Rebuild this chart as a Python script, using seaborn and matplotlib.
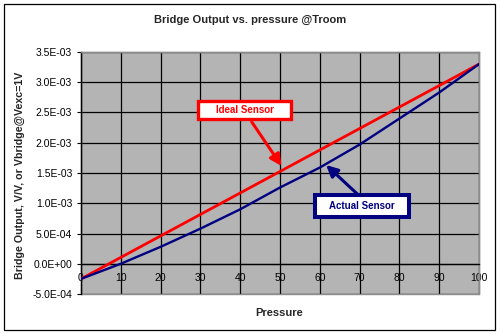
import matplotlib
matplotlib.use("Agg")
import matplotlib.pyplot as plt
from matplotlib.patches import Rectangle
from matplotlib.ticker import FuncFormatter, MultipleLocator
import seaborn as sns

# Bridge output (V/V) vs. applied pressure at room temperature
pressure_ideal = [0, 100]
ideal_output = [-2.5e-4, 3.30e-3]

pressure = [0, 10, 20, 30, 40, 50, 60, 70, 80, 90, 100]
actual_output = [-2.5e-4, 0.0, 2.8e-4, 5.8e-4, 9.0e-4, 1.26e-3, 1.59e-3,
                 1.97e-3, 2.40e-3, 2.83e-3, 3.30e-3]

x_ticks = [0, 10, 20, 30, 40, 50, 60, 70, 80, 90, 100]

sns.set_style("white")
plt.rcParams["font.family"] = ["Liberation Sans", "DejaVu Sans"]

W, H = 500, 334
fig = plt.figure(figsize=(W / 100, H / 100), dpi=100)
fig.patch.set_facecolor("white")

# plot area in pixels: left 81, right 479, top 52, bottom 294
ax = fig.add_axes([81 / W, (H - 294) / H, 398 / W, 242 / H])
ax.set_facecolor("#b4b4b4")

sns.lineplot(x=pressure_ideal, y=ideal_output, ax=ax, color="#ff0000",
             linewidth=2.0, zorder=3)
sns.lineplot(x=pressure, y=actual_output, ax=ax, color="#000080",
             linewidth=1.7, zorder=4)

ax.set_xlim(0, 100)
ax.set_ylim(-5e-4, 3.5e-3)
ax.set_xticks(x_ticks)
ax.set_xticklabels([str(t) for t in x_ticks])
ax.yaxis.set_major_locator(MultipleLocator(5e-4))
ax.yaxis.set_major_formatter(FuncFormatter(lambda v, p: f"{v:.1E}"))

ax.set_axisbelow(True)
ax.grid(True, color="black", linewidth=0.9)

# category axis crosses the value axis at zero
ax.spines["bottom"].set_position(("data", 0))
ax.spines["bottom"].set_color("black")
ax.spines["bottom"].set_linewidth(0.9)
for s in ("top", "right"):
    ax.spines[s].set_color("#8c8c8c")
    ax.spines[s].set_linewidth(1.0)
ax.spines["left"].set_color("black")
ax.spines["left"].set_linewidth(1.0)
ax.add_patch(Rectangle((0, 0), 1, 1, transform=ax.transAxes, fill=False,
                       edgecolor="#8c8c8c", linewidth=1.0, zorder=2.4,
                       clip_on=False))

ax.tick_params(axis="x", length=0, pad=6.5, labelsize=7.5, colors="black")
ax.tick_params(axis="y", length=3, width=0.8, direction="out", pad=3.4,
               labelsize=7.5, colors="black", left=True)
ax.set_xlabel("")
ax.set_ylabel("")

fig.text(250.5 / W, 1 - 20 / H, "Bridge Output vs. pressure @Troom",
         ha="center", va="center", fontsize=8, fontweight="bold")
fig.text(19.5 / W, 1 - 175 / H, "Bridge Output, V/V, or Vbridge@Vexc=1V",
         ha="center", va="center", rotation=90, fontsize=7.7, fontweight="bold")
fig.text(279.5 / W, 1 - 313 / H, "Pressure",
         ha="center", va="center", fontsize=8, fontweight="bold")

# callout boxes with arrows
def callout(x0, y0, w, h, text, color, lw, start, tip):
    ax.add_patch(Rectangle((x0, y0), w, h, transform=ax.transAxes,
                           facecolor="white", edgecolor=color, linewidth=lw,
                           zorder=6, clip_on=False))
    ax.text(x0 + w / 2, y0 + h / 2, text, transform=ax.transAxes,
            ha="center", va="center", color=color, fontsize=7,
            fontweight="bold", zorder=7)
    ax.annotate("", xy=tip, xycoords="axes fraction", xytext=start,
                textcoords="axes fraction",
                arrowprops=dict(arrowstyle="-|>", color=color, lw=2.2,
                                mutation_scale=17, shrinkA=0, shrinkB=0),
                zorder=5)

callout(0.295, 0.723, 0.2317, 0.0744, "Ideal Sensor", "#ff0000", 2.4,
        (0.429, 0.711), (0.504, 0.529))
callout(0.5887, 0.318, 0.2354, 0.0897, "Actual Sensor", "#000080", 2.9,
        (0.697, 0.409), (0.616, 0.533))

# chart border
fig.patches.append(Rectangle((3.5 / W, 1 - 329.5 / H), 491.5 / W, 325.5 / H,
                             transform=fig.transFigure, fill=False,
                             edgecolor="black", linewidth=0.9))

fig.savefig("out.png", dpi=100)
